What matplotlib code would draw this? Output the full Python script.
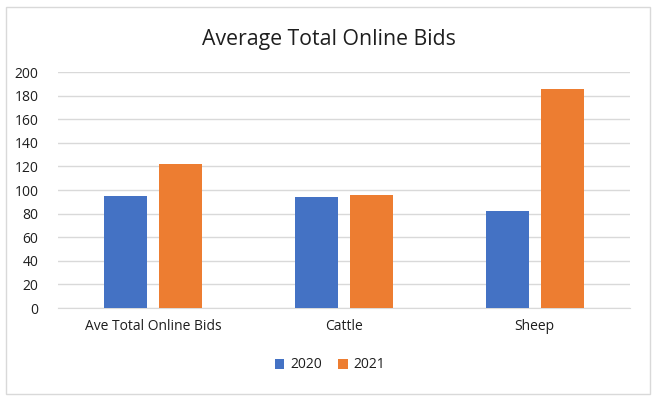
import matplotlib.pyplot as plt
import numpy as np
from matplotlib.patches import Rectangle

plt.rcParams['font.family'] = ['Open Sans', 'DejaVu Sans']

categories = ["Ave Total Online Bids", "Cattle", "Sheep"]
years = ["2020", "2021"]
vals_2020 = [95, 94, 82]
vals_2021 = [122, 95.5, 186]

blue = '#4472c4'
orange = '#ed7d31'
txt = '#1e1e1e'

fig = plt.figure(figsize=(6.58, 4.0), dpi=100)
fig.patches.append(Rectangle((6/658, 6/400), 644/658, 387/400, transform=fig.transFigure,
                             fill=False, edgecolor='#d9d9d9', linewidth=1))
ax = fig.add_axes([58/658, 92/400, 572/658, 236/400])

x = np.arange(len(categories))
w = 0.226
off = 0.144
ax.bar(x - off, vals_2020, w, color=blue, label=years[0], zorder=3)
ax.bar(x + off, vals_2021, w, color=orange, label=years[1], zorder=3)

ax.set_xlim(-0.5, 2.5)
ax.set_ylim(0, 200)
ax.set_yticks(range(0, 201, 20))
ax.set_xticks(x)
ax.set_xticklabels(categories)
ax.yaxis.grid(True, color='#d9d9d9', linewidth=1, zorder=0)
for s in ['top', 'right', 'left']:
    ax.spines[s].set_visible(False)
ax.spines['bottom'].set_color('#d9d9d9')
ax.tick_params(length=0, labelsize=10, labelcolor=txt)
ax.tick_params(axis='y', pad=14)
ax.tick_params(axis='x', pad=8)

fig.text(0.5, 1 - 39/400, "Average Total Online Bids", ha='center', va='center',
         fontsize=15.3, color=txt)
fig.legend(loc='center', bbox_to_anchor=(330/658, 1 - 365/400), ncol=2, frameon=False,
           fontsize=10, handlelength=0.7, handleheight=0.7, handletextpad=0.4,
           columnspacing=1.2, labelcolor=txt)

plt.savefig('out.png', dpi=100)
